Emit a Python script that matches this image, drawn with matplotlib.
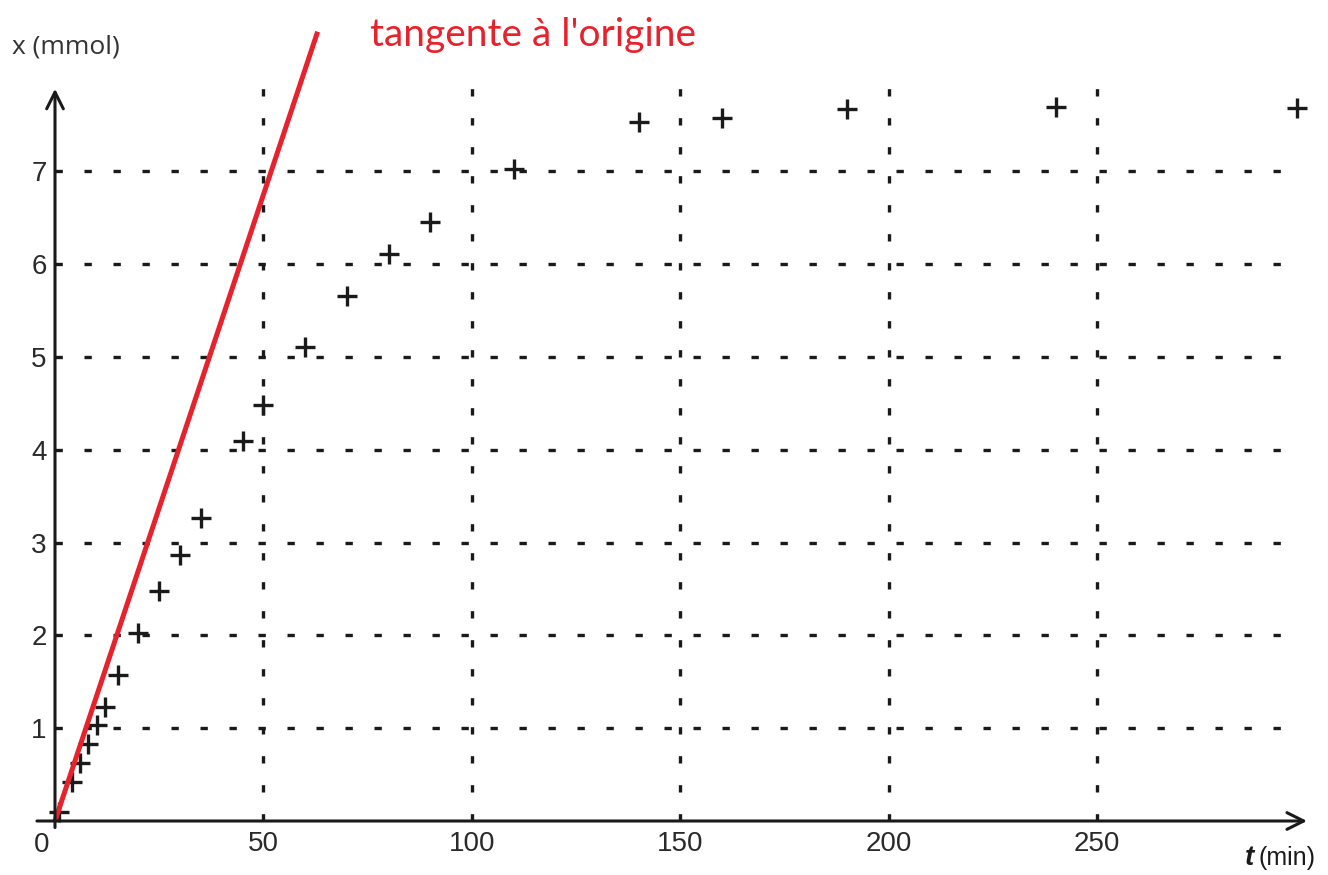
import numpy as np
import matplotlib.pyplot as plt

# donnees
t_min = [1, 4, 6, 8, 10, 12, 15, 20, 25, 30, 35, 45, 50, 60, 70, 80, 90, 110, 140, 160, 190, 240, 298]
x_mmol = [0.1, 0.42, 0.63, 0.83, 1.03, 1.23, 1.57, 2.03, 2.48, 2.87, 3.27, 4.09, 4.48, 5.11, 5.66,
          6.11, 6.45, 7.03, 7.53, 7.58, 7.67, 7.69, 7.68]
t_ticks = [50, 100, 150, 200, 250]
x_ticks = [1, 2, 3, 4, 5, 6, 7]
pente = 0.135          # tangente a l'origine (mmol/min)
t_tangente = [0, 63]

plt.rcParams['font.family'] = ['Liberation Sans', 'DejaVu Sans']

fig = plt.figure(figsize=(13.28, 8.75), dpi=100)
ax = fig.add_axes([55 / 1328, (875 - 821) / 875, (1314 - 55) / 1328, (821 - 21) / 875])
ax.set_xlim(0, 302)
ax.set_ylim(0, 8.62)
for s in ax.spines.values():
    s.set_visible(False)

# quadrillage pointille
ax.vlines(t_ticks, 0, 8.0, colors='#1a1a1a', linewidth=2.4, linestyles=(0, (2.2, 6.5)))
ax.hlines(x_ticks, 0, 296, colors='#1a1a1a', linewidth=2.4, linestyles=(0, (2.2, 6.5)))

# axes avec fleches
ax.annotate('', xy=(301, 0), xytext=(-5, 0), annotation_clip=False,
            arrowprops=dict(arrowstyle='->', lw=2.2, color='#1a1a1a', mutation_scale=30))
ax.annotate('', xy=(0, 7.92), xytext=(0, -0.1), annotation_clip=False,
            arrowprops=dict(arrowstyle='->', lw=2.2, color='#1a1a1a', mutation_scale=30))

# points de mesure
ax.plot(t_min, x_mmol, '+', color='#1a1a1a', markersize=14, mew=2.4, clip_on=False)

# tangente
tt = np.array(t_tangente)
ax.plot(tt, pente * tt, color='#e8222c', linewidth=3.6, clip_on=False, solid_capstyle='butt')

ax.set_xticks(t_ticks)
ax.set_yticks(x_ticks)
ax.tick_params(length=0, labelsize=20, colors='#2a2a2a')
ax.tick_params(axis='x', pad=7)
ax.tick_params(axis='y', pad=6)
ax.text(-13 / 4.17, -0.26, '0', fontsize=20, color='#2a2a2a', ha='center', va='center')

fig.text(12 / 1328, 1 - 47 / 875, 'x (mmol)', fontsize=19, color='#333333',
         family='Open Sans', va='center', ha='left')
fig.text(1315 / 1328, 1 - 858 / 875, '(min)', fontsize=18, color='#1a1a1a',
         va='center', ha='right')
fig.text(1254 / 1328, 1 - 858 / 875, 't', fontsize=20, color='#1a1a1a',
         style='italic', weight='bold', va='center', ha='right')
fig.text(370 / 1328, 1 - 35 / 875, "tangente à l'origine", fontsize=28, color='#e8222c',
         family='Lato', va='center', ha='left')

fig.savefig('out.png', dpi=100)
